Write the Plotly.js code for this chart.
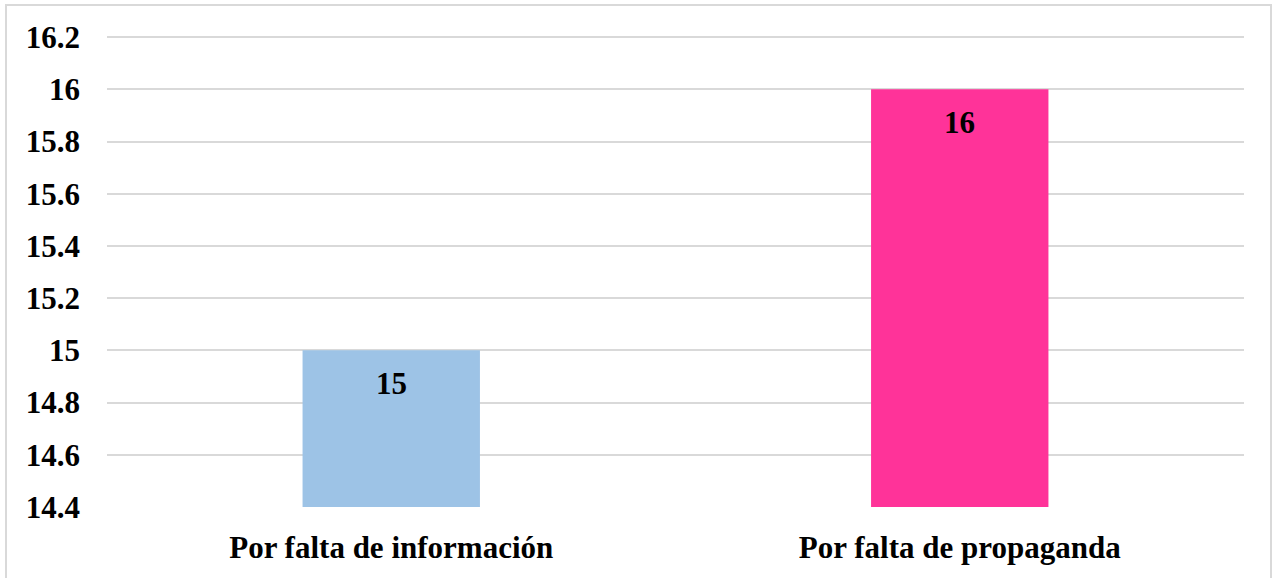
<!DOCTYPE html>
<html>
<head>
<meta charset="utf-8">
<script src="https://cdn.plot.ly/plotly-3.0.1.min.js"></script>
<style>html,body{margin:0;padding:0;background:#fff;}#chart{width:1273px;height:578px;}</style>
</head>
<body>
<div id="chart"></div>
<script>
var categories = ["Por falta de información", "Por falta de propaganda"];
var values = [15, 16];
var barColors = ["#9DC3E6", "#FF3399"];
var tickVals = [14.4, 14.6, 14.8, 15, 15.2, 15.4, 15.6, 15.8, 16, 16.2];
var tickText = ["14.4", "14.6", "14.8", "15", "15.2", "15.4", "15.6", "15.8", "16", "16.2"];

var fontFam = "'Liberation Serif', 'Times New Roman', serif";
var L = 107, R = 29, T = 35, B = 71, W = 1273, H = 578;
var pw = W - L - R, ph = H - T - B;
var fs = 31;

var trace = {
  type: "bar",
  x: categories,
  y: values,
  width: 0.312,
  marker: {color: barColors},
  cliponaxis: true,
  hoverinfo: "none"
};

var annotations = categories.map(function (c, i) {
  return {
    x: c, y: values[i], xref: "x", yref: "y",
    text: String(values[i]), showarrow: false,
    yanchor: "middle", yshift: -33,
    font: {family: fontFam, size: fs, color: "#000", weight: "bold"}
  };
});

var layout = {
  width: W, height: H,
  margin: {l: L, r: R, t: T, b: B, pad: 0},
  paper_bgcolor: "#fff",
  plot_bgcolor: "#fff",
  showlegend: false,
  font: {family: fontFam, color: "#000"},
  xaxis: {
    type: "category",
    showgrid: false, zeroline: false, showline: false,
    ticks: "",
    tickfont: {family: fontFam, size: fs, color: "#000", weight: "bold"},
    ticklabelstandoff: 19
  },
  yaxis: {
    range: [14.4, 16.208],
    tickvals: tickVals,
    ticktext: tickText,
    showgrid: true, gridcolor: "#D9D9D9", gridwidth: 2,
    zeroline: false, showline: false,
    ticks: "",
    tickfont: {family: fontFam, size: fs, color: "#000", weight: "bold"},
    ticklabelstandoff: 26
  },
  annotations: annotations,
  shapes: [{
    type: "rect", xref: "paper", yref: "paper",
    x0: (6 - L) / pw, x1: (1271 - L) / pw,
    y0: -(H + 5 - (H - B)) / ph, y1: 1 + (T - 5) / ph,
    line: {color: "#D9D9D9", width: 2}, fillcolor: "rgba(0,0,0,0)", layer: "below"
  }]
};

Plotly.newPlot("chart", [trace], layout, {staticPlot: true, displayModeBar: false});
</script>
</body>
</html>
